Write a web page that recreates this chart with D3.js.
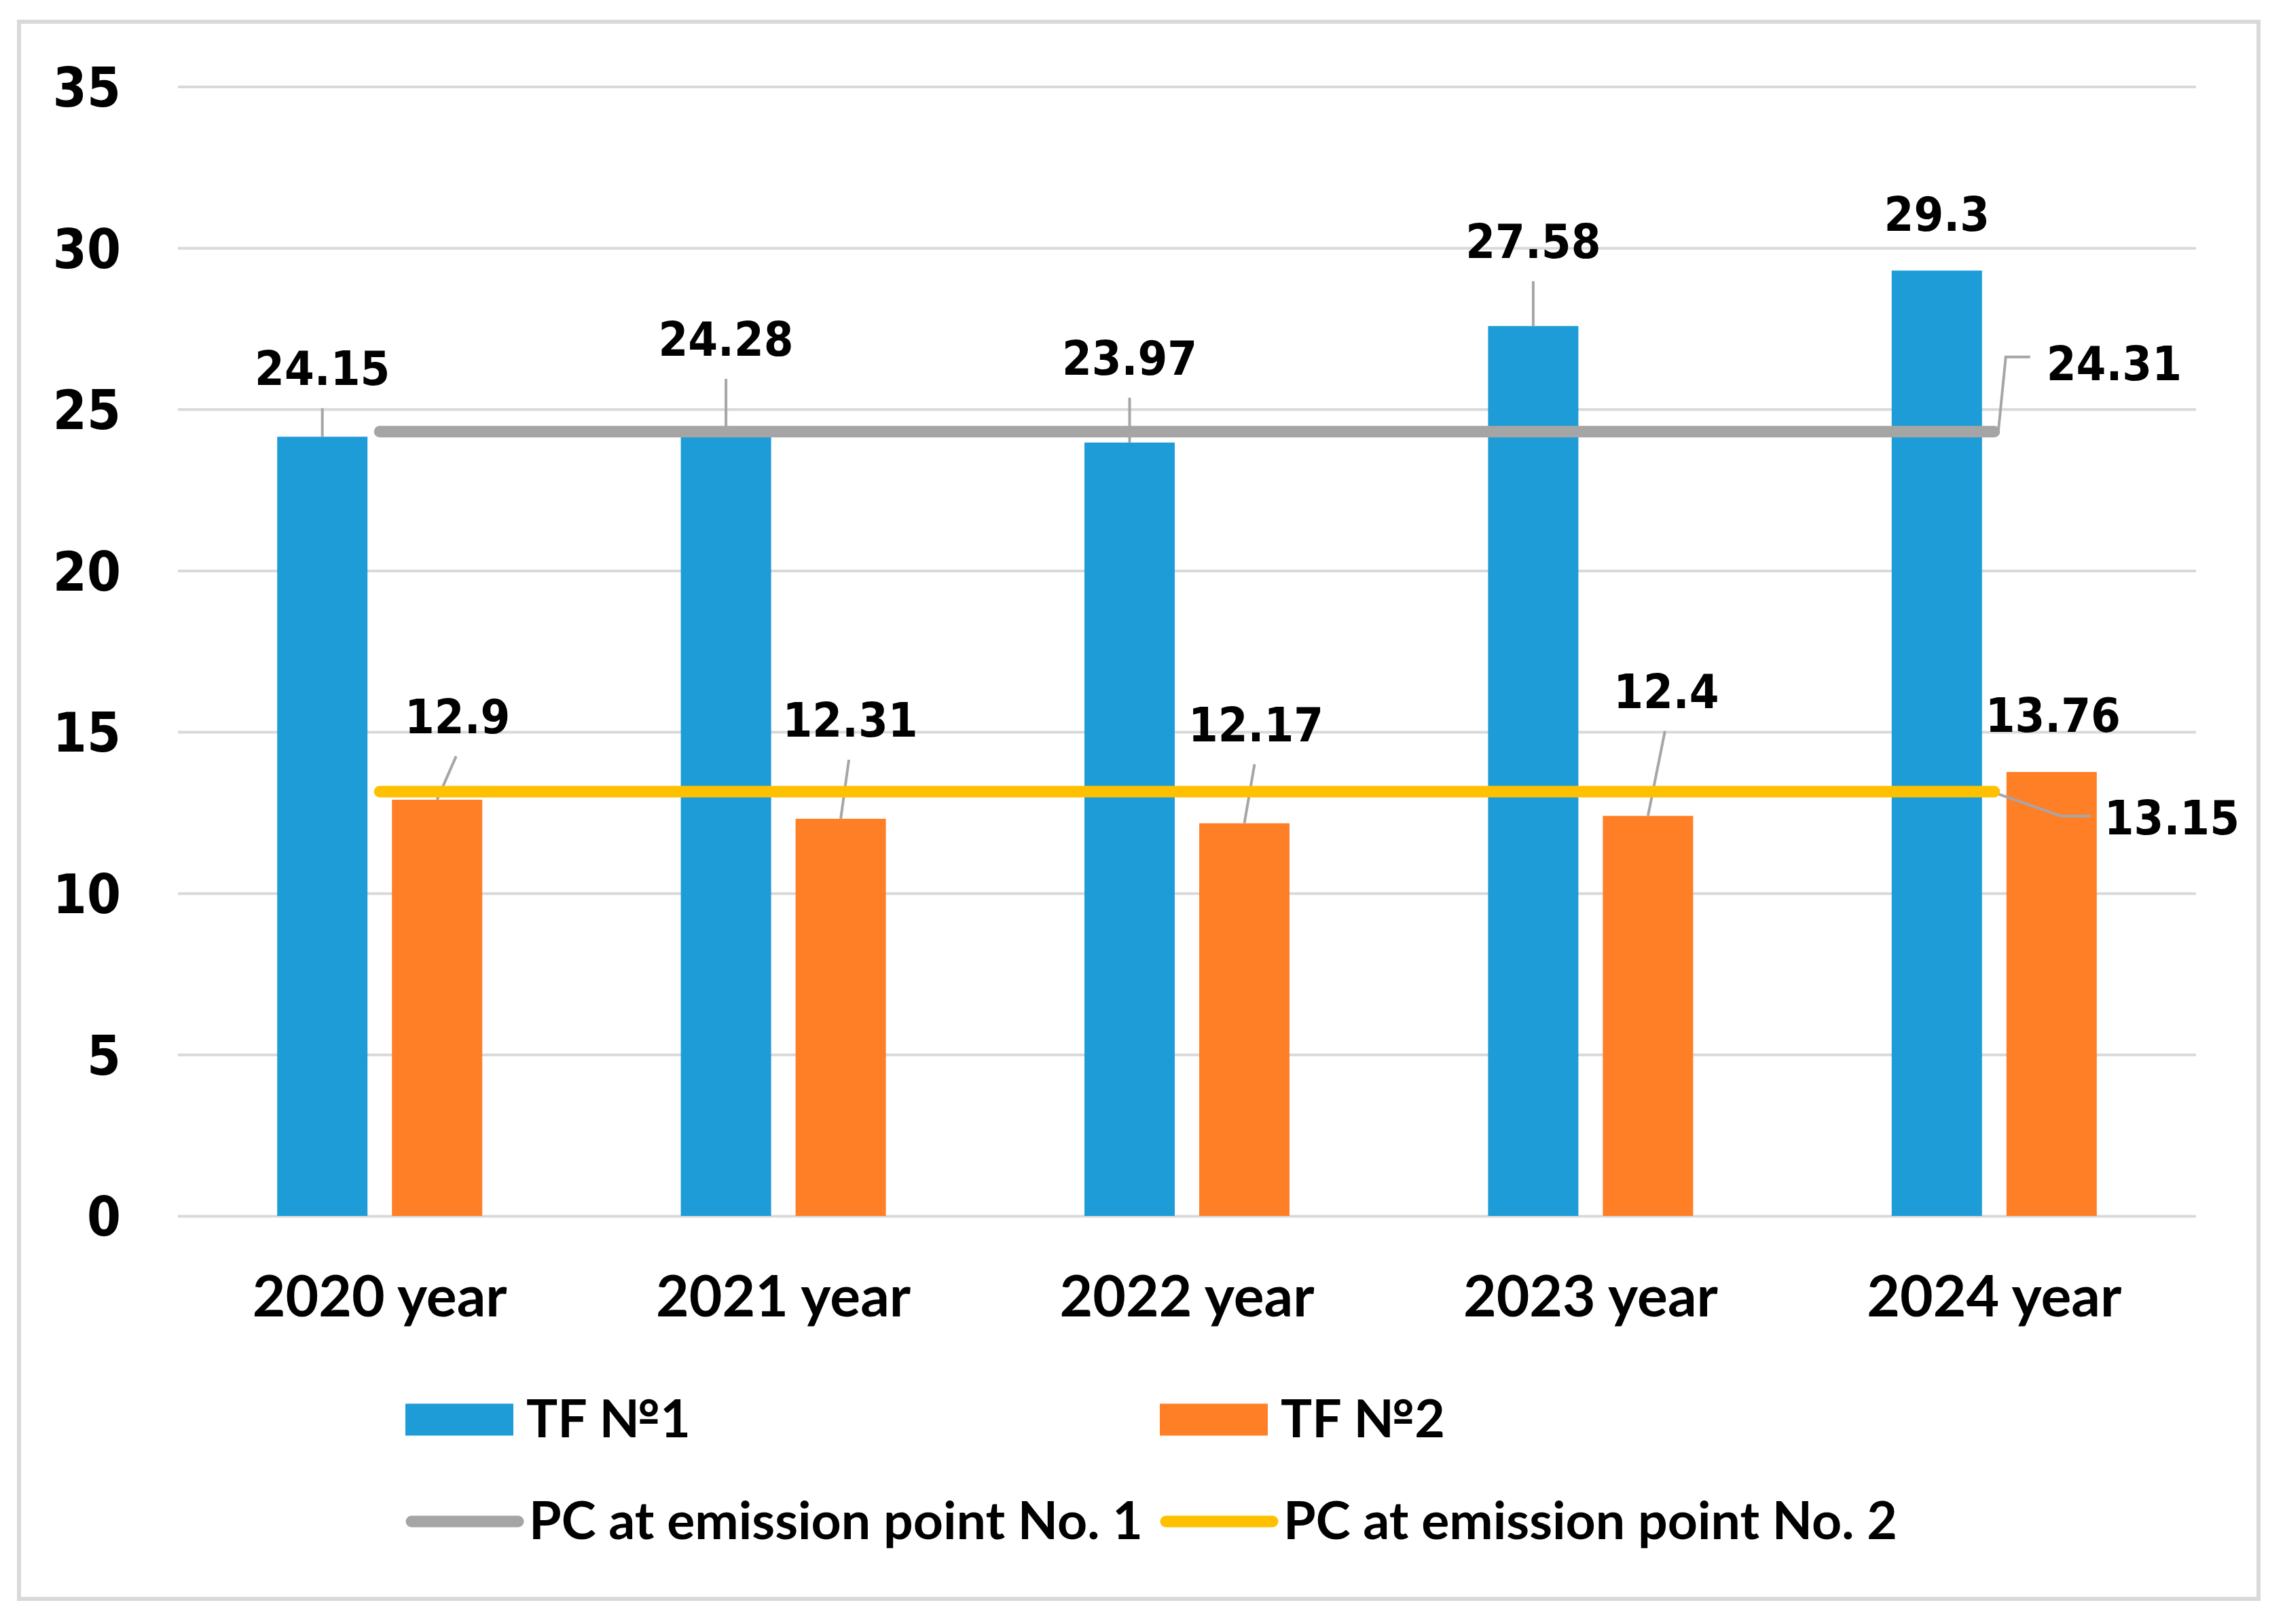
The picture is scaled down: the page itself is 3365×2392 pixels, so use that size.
<!DOCTYPE html>
<html>
<head>
<meta charset="utf-8">
<script src="https://cdn.jsdelivr.net/npm/d3@7"></script>
<style>
  html, body { margin: 0; padding: 0; background: #fff; }
  .num { font-family: "DejaVu Sans Condensed", "DejaVu Sans", sans-serif; font-weight: bold; font-stretch: condensed; }
  .txt { font-family: Lato, "Open Sans", sans-serif; font-weight: bold; }
</style>
</head>
<body>
<script>
// chart data
const categories = ['2020 year', '2021 year', '2022 year', '2023 year', '2024 year'];
const tf1 = [24.15, 24.28, 23.97, 27.58, 29.3];
const tf2 = [12.9, 12.31, 12.17, 12.4, 13.76];
const pc1 = [24.31, 24.31, 24.31, 24.31, 24.31];
const pc2 = [13.15, 13.15, 13.15, 13.15, 13.15];
const yTicks = [0, 5, 10, 15, 20, 25, 30, 35];
const seriesNames = ['TF №1', 'TF №2', 'PC at emission point No. 1', 'PC at emission point No. 2'];

// label placement (px above bar top, px shift right of bar centre)
const liftTF1 = [76, 113, 100, 100, 58];
const liftTF2 = [98, 121, 121, 159, 59];
const shiftTF2 = [30, 14, 17, 27, 2];

const colors = { tf1: '#1E9CD7', tf2: '#FF7F27', pc1: '#A5A5A5', pc2: '#FFC000', grid: '#D9D9D9', leader: '#A6A6A6' };

const W = 3365, H = 2392;
const plot = { left: 262, right: 3234, top: 127.6, bottom: 1791 };

const svg = d3.select('body').append('svg')
  .attr('width', W).attr('height', H);

// outer frame
svg.append('rect')
  .attr('x', 28).attr('y', 32).attr('width', 3298).attr('height', 2323)
  .attr('fill', '#fff').attr('stroke', colors.grid).attr('stroke-width', 6);

// scales
const y = d3.scaleLinear().domain([0, 35]).range([plot.bottom, plot.top]);
const x0 = d3.scaleBand().domain(categories).range([plot.left, plot.right]);
const bw = x0.bandwidth();
const x1 = d3.scaleBand().domain(['tf1', 'tf2'])
  .range([bw / 2 - 151, bw / 2 + 151]).paddingInner(36 / 169);
const cx = (c) => x0(c) + bw / 2;

// y axis with gridlines
svg.append('g')
  .attr('transform', `translate(${plot.left},0)`)
  .call(d3.axisLeft(y).tickValues(yTicks).tickSize(-(plot.right - plot.left)).tickPadding(84))
  .call((g) => g.select('.domain').remove())
  .call((g) => g.selectAll('.tick line').attr('stroke', colors.grid).attr('stroke-width', 4))
  .call((g) => g.selectAll('.tick text')
    .attr('class', 'num').attr('fill', '#000').attr('font-size', 80).attr('dy', '0.36em'));

// x axis labels
svg.append('g')
  .attr('transform', `translate(0,${plot.bottom})`)
  .call(d3.axisBottom(x0).tickSize(0))
  .call((g) => g.select('.domain').remove())
  .call((g) => g.selectAll('.tick text')
    .attr('class', 'txt').attr('fill', '#000').attr('font-size', 84)
    .attr('y', 148).attr('dy', 0));

// bars
const rows = categories.map((c, i) => ({ c, i, tf1: tf1[i], tf2: tf2[i] }));
['tf1', 'tf2'].forEach((key) => {
  svg.append('g').selectAll('rect')
    .data(rows)
    .enter()
    .append('rect')
    .attr('x', (d) => x0(d.c) + x1(key))
    .attr('width', x1.bandwidth())
    .attr('y', (d) => y(d[key]))
    .attr('height', (d) => y(0) - y(d[key]))
    .attr('fill', colors[key]);
});

// data label leaders
const leaders = svg.append('g').attr('stroke', colors.leader).attr('stroke-width', 4).attr('fill', 'none');
rows.forEach((d) => {
  const bx1 = x0(d.c) + x1('tf1') + x1.bandwidth() / 2;
  const top1 = y(d.tf1);
  if (liftTF1[d.i] > 65) {
    leaders.append('line')
      .attr('x1', bx1).attr('x2', bx1)
      .attr('y1', top1 - liftTF1[d.i] + 34).attr('y2', top1);
  }
  const bx2 = x0(d.c) + x1('tf2') + x1.bandwidth() / 2;
  const top2 = y(d.tf2);
  if (liftTF2[d.i] > 65) {
    leaders.append('line')
      .attr('x1', bx2 + shiftTF2[d.i] - 2).attr('x2', bx2)
      .attr('y1', top2 - liftTF2[d.i] + 34).attr('y2', top2);
  }
});

// horizontal PC lines
const line = d3.line().x((d) => cx(d.c)).y((d) => y(d.v));
[['pc1', pc1], ['pc2', pc2]].forEach(([key, vals]) => {
  svg.append('path')
    .datum(categories.map((c, i) => ({ c, v: vals[i] })))
    .attr('d', line)
    .attr('fill', 'none')
    .attr('stroke', colors[key])
    .attr('stroke-width', 17)
    .attr('stroke-linecap', 'round');
});

// bar value labels
const labels = svg.append('g').attr('class', 'num').attr('font-size', 70).attr('fill', '#000').attr('text-anchor', 'middle');
rows.forEach((d) => {
  labels.append('text')
    .attr('x', x0(d.c) + x1('tf1') + x1.bandwidth() / 2)
    .attr('y', y(d.tf1) - liftTF1[d.i])
    .text(d.tf1);
  labels.append('text')
    .attr('x', x0(d.c) + x1('tf2') + x1.bandwidth() / 2 + shiftTF2[d.i])
    .attr('y', y(d.tf2) - liftTF2[d.i])
    .text(d.tf2);
});

// labels at the end of the PC lines
const last = categories.length - 1;
const ex = cx(categories[last]);
const e1 = y(pc1[last]);
const e2 = y(pc2[last]);
leaders.append('polyline')
  .attr('points', [[ex + 6, e1], [ex + 17, e1 - 110], [ex + 53, e1 - 110]].join(' '));
leaders.append('polyline')
  .attr('points', [[ex + 2, e2 + 2], [ex + 99, e2 + 36], [ex + 142, e2 + 36]].join(' '));
labels.append('text').attr('text-anchor', 'start')
  .attr('x', ex + 77).attr('y', e1 - 76).text(pc1[last]);
labels.append('text').attr('text-anchor', 'start')
  .attr('x', ex + 162).attr('y', e2 + 63).text(pc2[last]);

// legend
const legend = svg.append('g').attr('class', 'txt').attr('font-size', 77);
const legendItems = [
  { name: seriesNames[0], key: 'tf1', type: 'rect', x: 597, cy: 2091 },
  { name: seriesNames[1], key: 'tf2', type: 'rect', x: 1708, cy: 2091 },
  { name: seriesNames[2], key: 'pc1', type: 'line', x: 597, cy: 2241 },
  { name: seriesNames[3], key: 'pc2', type: 'line', x: 1708, cy: 2241 },
];
legendItems.forEach((it) => {
  if (it.type === 'rect') {
    legend.append('rect')
      .attr('x', it.x).attr('y', it.cy - 23.5).attr('width', 159).attr('height', 47)
      .attr('fill', colors[it.key]);
  } else {
    legend.append('line')
      .attr('x1', it.x + 9).attr('x2', it.x + 166)
      .attr('y1', it.cy).attr('y2', it.cy)
      .attr('stroke', colors[it.key]).attr('stroke-width', 17).attr('stroke-linecap', 'round');
  }
  legend.append('text')
    .attr('x', it.x + (it.type === 'rect' ? 178 : 182))
    .attr('y', it.cy + 26)
    .attr('fill', '#000')
    .text(it.name);
});
</script>
</body>
</html>
